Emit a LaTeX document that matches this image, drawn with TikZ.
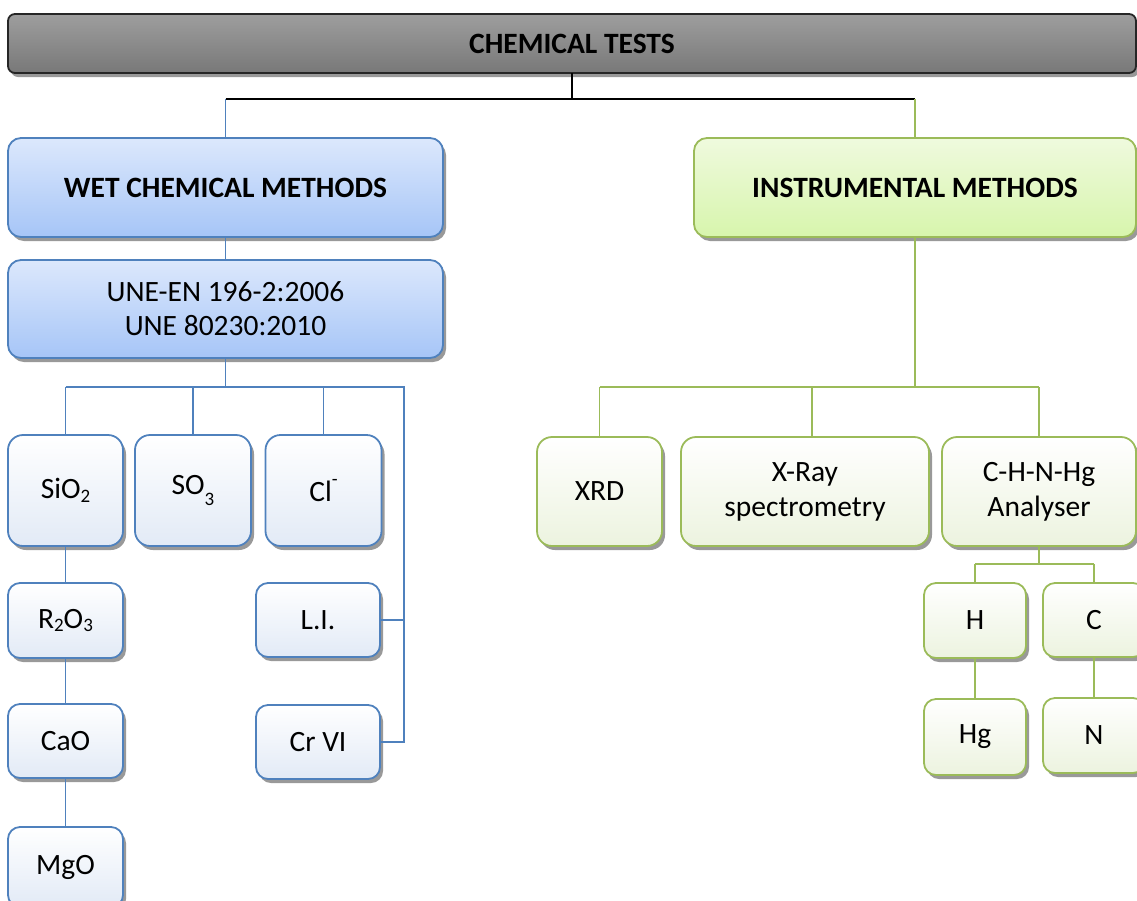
\documentclass[tikz,border=0pt]{standalone}
\usepackage{fontspec}
\setmainfont{Carlito}
\usetikzlibrary{shadows}

\newcommand{\chsub}[2][-0.12em]{\raisebox{#1}{\fontsize{19}{19}\selectfont #2}}
\newcommand{\chsup}[1]{\raisebox{0.55em}{\fontsize{19}{19}\selectfont #1}}

\begin{document}
\begin{tikzpicture}[x=1pt,y=-1pt]
% ------------------------------------------------ chart colors
\definecolor{ct_grayt}{RGB}{158,158,158}  %#9E9E9E
\definecolor{ct_grayb}{RGB}{120,120,120}  %#787878
\definecolor{ct_blue}{RGB}{79,129,189}    %#4F81BD
\definecolor{ct_bluet}{RGB}{220,232,252}  %#DCE8FC
\definecolor{ct_blueb}{RGB}{166,197,247}  %#A6C5F7
\definecolor{ct_paleb}{RGB}{226,234,246}  %#E2EAF6
\definecolor{ct_green}{RGB}{155,187,89}   %#9BBB59
\definecolor{ct_greent}{RGB}{239,250,222} %#EFFADE
\definecolor{ct_greenb}{RGB}{215,245,172} %#D7F5AC
\definecolor{ct_paleg}{RGB}{236,243,223}  %#ECF3DF

\tikzset{
  box/.style={inner sep=0pt,outer sep=0pt,line width=1.8pt,align=center,
    font=\fontsize{29.5}{35}\selectfont,
    drop shadow={shadow xshift=3pt,shadow yshift=-4pt,fill=black!40,opacity=1}},
  topbox/.style={box,draw=black!85,rounded corners=7pt,top color=ct_grayt,bottom color=ct_grayb,
    font=\fontsize{29.5}{35}\selectfont\bfseries},
  wetbox/.style={box,draw=ct_blue,rounded corners=13pt,top color=ct_bluet,bottom color=ct_blueb,
    font=\fontsize{29.5}{35}\selectfont\bfseries},
  instbox/.style={wetbox,draw=ct_green,top color=ct_greent,bottom color=ct_greenb},
  unebox/.style={wetbox,font=\fontsize{29.5}{34}\selectfont},
  bsmall/.style={box,draw=ct_blue,rounded corners=15pt,top color=white,bottom color=ct_paleb},
  gsmall/.style={box,draw=ct_green,rounded corners=15pt,top color=white,bottom color=ct_paleg},
  blk/.style={line width=1.8pt,black},
  bline/.style={line width=1.8pt,ct_blue},
  gline/.style={line width=1.8pt,ct_green}
}

\useasboundingbox (0,0) rectangle (1137,900);

% top level
\node[topbox,minimum width=1128,minimum height=59] (tests) at (572,43.5) {CHEMICAL TESTS};
\node[wetbox,minimum width=435,minimum height=99] (wet) at (225.5,187.5) {WET CHEMICAL METHODS};
\node[instbox,minimum width=442,minimum height=99] (inst) at (915,187.5) {INSTRUMENTAL METHODS};

% wet chemical branch
\node[unebox,minimum width=435,minimum height=98] (une) at (225.5,309) {UNE-EN 196-2:2006\\UNE 80230:2010};
\node[bsmall,minimum width=115,minimum height=111] (sio) at (65.5,490.5) {SiO\chsub{2}};
\node[bsmall,minimum width=116,minimum height=111] (so) at (193,490.5) {SO\chsub[-0.35em]{3}};
\node[bsmall,minimum width=116,minimum height=111] (cl) at (323.5,490.5) {Cl\chsup{-}};
\node[bsmall,rounded corners=12pt,minimum width=115,minimum height=75] (rox) at (65.5,620.5) {R\chsub{2}O\chsub{3}};
\node[bsmall,rounded corners=12pt,minimum width=115,minimum height=74] (cao) at (65.5,741) {CaO};
\node[bsmall,rounded corners=12pt,minimum width=115,minimum height=80] (mgo) at (65.5,867) {MgO};
\node[bsmall,rounded corners=12pt,minimum width=124,minimum height=74] (li) at (318,620) {L.I.};
\node[bsmall,rounded corners=12pt,minimum width=124,minimum height=74] (crvi) at (318,742) {Cr VI};

% instrumental branch
\node[gsmall,minimum width=125,minimum height=109] (xrd) at (599.5,491.5) {XRD};
\node[gsmall,minimum width=248,minimum height=109] (xray) at (805,491.5) {X-Ray\\spectrometry};
\node[gsmall,minimum width=194,minimum height=109] (chn) at (1039,491.5) {C-H-N-Hg\\Analyser};
\node[gsmall,rounded corners=12pt,minimum width=102,minimum height=75] (h) at (975,620.5) {H};
\node[gsmall,rounded corners=12pt,minimum width=102,minimum height=74] (c) at (1094,620) {C};
\node[gsmall,rounded corners=12pt,minimum width=102,minimum height=76] (hg) at (975,737) {Hg};
\node[gsmall,rounded corners=12pt,minimum width=102,minimum height=75] (n) at (1094,735.5) {N};

% connectors
\draw[blk] (tests.south) -- ++(0,26) coordinate (j0);
\draw[blk] (j0 -| wet.north) -- (j0 -| inst.north);
\draw[bline] (j0 -| wet.north) -- (wet.north);
\draw[gline] (j0 -| inst.north) -- (inst.north);

\draw[bline] (wet.south) -- (une.north);
\draw[bline] (une.south) -- ++(0,29) coordinate (j1);
\path (li.east) ++(24,0) coordinate (lir);
\draw[bline] (j1 -| sio.north) -- (j1 -| lir) -- (crvi.east -| lir) -- (crvi.east);
\draw[bline] (lir) -- (li.east);
\draw[bline] (j1 -| sio.north) -- (sio.north);
\draw[bline] (j1 -| so.north) -- (so.north);
\draw[bline] (j1 -| cl.north) -- (cl.north);
\draw[bline] (sio.south) -- (rox.north);
\draw[bline] (rox.south) -- (cao.north);
\draw[bline] (cao.south) -- (mgo.north);

\draw[gline] (inst.south) -- ++(0,150) coordinate (j2);
\draw[gline] (j2 -| xrd.north) -- (j2 -| chn.north);
\draw[gline] (j2 -| xrd.north) -- (xrd.north);
\draw[gline] ([xshift=7pt]j2 -| xray.north) -- ([xshift=7pt]xray.north);
\draw[gline] (j2 -| chn.north) -- (chn.north);
\draw[gline] (chn.south) -- ++(0,18) coordinate (j3);
\draw[gline] (j3 -| h.north) -- (j3 -| c.north);
\draw[gline] (j3 -| h.north) -- (h.north);
\draw[gline] (j3 -| c.north) -- (c.north);
\draw[gline] (h.south) -- (hg.north);
\draw[gline] (c.south) -- (n.north);

\end{tikzpicture}
\end{document}
